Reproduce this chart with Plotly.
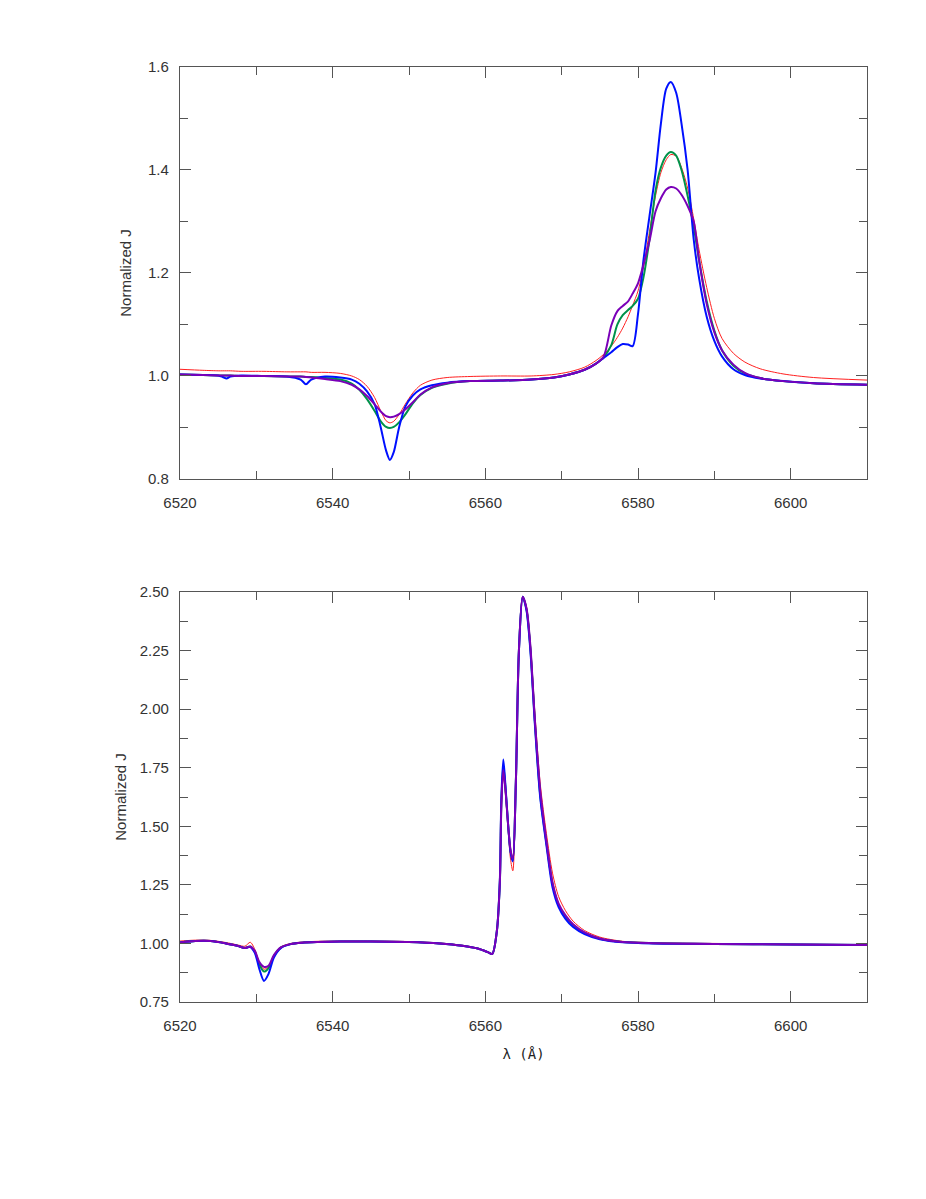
import plotly.graph_objects as go

# ---------------- Top panel data ----------------
top_wave = [6520, 6523, 6525, 6525.6, 6526.1, 6526.6, 6528, 6531, 6534, 6535.8, 6536.5, 6537.2,
            6539, 6541, 6542.5, 6543.5, 6544.5, 6545.5, 6546.3, 6547, 6547.5, 6548, 6548.7,
            6549.5, 6550.5, 6551.5, 6553, 6555, 6558, 6562, 6566, 6569, 6571, 6573, 6574.5,
            6575.5, 6576.5, 6577.3, 6578, 6578.7, 6579.3, 6580, 6580.7, 6581.5, 6582.3, 6583,
            6583.7, 6584.3, 6585, 6585.7, 6586.5, 6587.3, 6588, 6589, 6590, 6591, 6592.5, 6594,
            6596, 6599, 6603, 6610]

top_blue = [1.003, 1.002, 1.001, 0.998, 0.995, 0.999, 1.001, 1.000, 0.999, 0.993, 0.984, 0.993,
            0.999, 0.997, 0.993, 0.985, 0.970, 0.945, 0.900, 0.855, 0.837, 0.852, 0.900,
            0.940, 0.962, 0.974, 0.982, 0.987, 0.990, 0.991, 0.993, 0.997, 1.003, 1.012, 1.024,
            1.035, 1.046, 1.056, 1.062, 1.061, 1.058, 1.120, 1.223, 1.310, 1.395, 1.490,
            1.558, 1.571, 1.550, 1.490, 1.400, 1.265, 1.190, 1.115, 1.068, 1.038, 1.013, 1.002,
            0.995, 0.990, 0.986, 0.983]

top_green = [1.003, 1.002, 1.001, 1.001, 1.001, 1.001, 1.000, 1.000, 0.999, 0.999, 0.998, 0.998,
             0.996, 0.993, 0.985, 0.973, 0.955, 0.932, 0.912, 0.901, 0.899, 0.901, 0.910,
             0.925, 0.947, 0.963, 0.977, 0.985, 0.990, 0.991, 0.993, 0.997, 1.003, 1.012, 1.024,
             1.036, 1.060, 1.100, 1.118, 1.128, 1.136, 1.150, 1.190, 1.265, 1.360, 1.405,
             1.428, 1.435, 1.428, 1.400, 1.350, 1.290, 1.225, 1.145, 1.088, 1.050, 1.020, 1.005,
             0.996, 0.990, 0.986, 0.983]

top_red = [1.013, 1.011, 1.010, 1.010, 1.010, 1.010, 1.009, 1.009, 1.008, 1.008, 1.008, 1.007,
           1.007, 1.005, 1.000, 0.993, 0.980, 0.958, 0.932, 0.913, 0.909, 0.912, 0.925,
           0.945, 0.967, 0.982, 0.992, 0.997, 0.999, 1.000, 1.000, 1.003, 1.008, 1.017, 1.030,
           1.042, 1.058, 1.075, 1.093, 1.115, 1.137, 1.165, 1.210, 1.280, 1.350, 1.395,
           1.420, 1.430, 1.427, 1.405, 1.365, 1.305, 1.245, 1.172, 1.112, 1.073, 1.044, 1.027,
           1.014, 1.004, 0.997, 0.992]

top_purple = [1.003, 1.002, 1.001, 1.001, 1.001, 1.001, 1.000, 1.000, 0.999, 0.999, 0.998, 0.997,
              0.994, 0.990, 0.983, 0.974, 0.961, 0.945, 0.931, 0.922, 0.920, 0.921, 0.926,
              0.935, 0.949, 0.964, 0.978, 0.986, 0.990, 0.991, 0.993, 0.997, 1.003, 1.012, 1.024,
              1.038, 1.098, 1.126, 1.136, 1.145, 1.160, 1.180, 1.215, 1.262, 1.320, 1.345,
              1.362, 1.367, 1.364, 1.352, 1.330, 1.300, 1.225, 1.140, 1.085, 1.050, 1.022, 1.006,
              0.996, 0.990, 0.986, 0.983]

# ---------------- Bottom panel data ----------------
bot_wave = [6520, 6522, 6524, 6526, 6527.5, 6528.5, 6529.2, 6529.8, 6530.4, 6531, 6531.6, 6532.3,
            6533.2, 6534.5, 6536, 6538, 6541, 6545, 6550, 6554, 6557, 6559, 6560.3, 6560.9,
            6561.5, 6561.9, 6562.1, 6562.35, 6562.6, 6563.0, 6563.3, 6563.6, 6564.0, 6564.4,
            6564.9, 6565.4, 6565.9, 6566.5, 6567.2, 6568, 6568.8, 6569.6, 6570.5, 6571.5,
            6573, 6575, 6578, 6582, 6590, 6600, 6610]

bot_blue = [1.004, 1.010, 1.010, 1.000, 0.990, 0.980, 0.985, 0.960, 0.890, 0.840, 0.870, 0.940,
            0.980, 0.997, 1.003, 1.006, 1.008, 1.008, 1.006, 1.000, 0.990, 0.978, 0.963, 0.955,
            1.050, 1.270, 1.620, 1.785, 1.690, 1.500, 1.390, 1.350, 1.690, 2.250,
            2.480, 2.420, 2.250, 1.930, 1.620, 1.420, 1.240, 1.155, 1.105, 1.070,
            1.040, 1.018, 1.005, 1.000, 0.998, 0.995, 0.993]

bot_green = [1.004, 1.010, 1.010, 1.000, 0.990, 0.980, 0.987, 0.965, 0.910, 0.880, 0.895, 0.945,
             0.982, 0.997, 1.003, 1.006, 1.008, 1.008, 1.006, 1.000, 0.990, 0.978, 0.963, 0.955,
             1.050, 1.260, 1.600, 1.760, 1.680, 1.500, 1.395, 1.355, 1.690, 2.250,
             2.480, 2.425, 2.260, 1.940, 1.630, 1.430, 1.255, 1.165, 1.115, 1.078,
             1.045, 1.020, 1.006, 1.001, 0.998, 0.995, 0.993]

bot_red = [1.010, 1.014, 1.013, 1.004, 0.994, 0.988, 1.005, 0.975, 0.915, 0.890, 0.900, 0.950,
           0.985, 1.000, 1.006, 1.009, 1.010, 1.010, 1.008, 1.002, 0.992, 0.980, 0.965, 0.957,
           1.050, 1.250, 1.580, 1.720, 1.650, 1.480, 1.360, 1.310, 1.670, 2.240,
           2.480, 2.435, 2.280, 1.980, 1.680, 1.470, 1.300, 1.200, 1.140, 1.095,
           1.055, 1.027, 1.009, 1.003, 1.000, 0.997, 0.995]

bot_purple = [1.004, 1.010, 1.010, 1.000, 0.990, 0.980, 0.987, 0.968, 0.920, 0.900, 0.905, 0.950,
              0.983, 0.997, 1.003, 1.006, 1.008, 1.008, 1.006, 1.000, 0.990, 0.978, 0.963, 0.955,
              1.050, 1.260, 1.590, 1.740, 1.670, 1.500, 1.400, 1.360, 1.690, 2.250,
              2.480, 2.430, 2.270, 1.950, 1.650, 1.437, 1.260, 1.170, 1.120, 1.082,
              1.047, 1.021, 1.006, 1.001, 0.998, 0.995, 0.993]

series = [
    ("red", "#ff2020", 1.0),
    ("green", "#00924a", 2.0),
    ("blue", "#0010ff", 2.0),
    ("purple", "#7a00b8", 2.0),
]
top_vals = {"red": top_red, "green": top_green, "blue": top_blue, "purple": top_purple}
bot_vals = {"red": bot_red, "green": bot_green, "blue": bot_blue, "purple": bot_purple}

fig = go.Figure()
for name, color, w in series:
    fig.add_trace(go.Scatter(x=top_wave, y=top_vals[name], mode="lines",
                             line=dict(color=color, width=w, shape="spline", smoothing=0.8),
                             xaxis="x", yaxis="y", showlegend=False, hoverinfo="skip"))
for name, color, w in series:
    fig.add_trace(go.Scatter(x=bot_wave, y=bot_vals[name], mode="lines",
                             line=dict(color=color, width=w, shape="spline", smoothing=0.8),
                             xaxis="x2", yaxis="y2", showlegend=False, hoverinfo="skip"))

font = dict(family="Liberation Sans, Arial, sans-serif", size=15, color="#333333")
axcol = "#555555"

common_x = dict(range=[6520, 6610], dtick=20, tick0=6520, ticks="inside", ticklen=11,
                tickwidth=1, tickcolor=axcol, showline=True, linecolor=axcol, linewidth=1.2,
                mirror="ticks", showgrid=False, zeroline=False, tickfont=font,
                ticklabelstandoff=10, automargin=False,
                minor=dict(dtick=10, tick0=6520, ticks="inside", ticklen=8, tickcolor=axcol,
                           showgrid=False))
common_y = dict(ticks="inside", ticklen=11, tickwidth=1, tickcolor=axcol, showline=True,
                linecolor=axcol, linewidth=1.2, mirror="ticks", showgrid=False,
                zeroline=False, tickfont=font, ticklabelstandoff=7, automargin=False)

# page body has an 8px default margin, so the figure is 8px smaller than the window
fig.update_layout(
    width=918, height=1191,
    margin=dict(l=172, r=59, t=59, b=197),
    paper_bgcolor="white", plot_bgcolor="white",
    showlegend=False,
    xaxis=dict(domain=[0, 1], anchor="y", **common_x),
    yaxis=dict(domain=[0.5594, 1], anchor="x", range=[0.8, 1.6], dtick=0.2, tick0=0.8,
               tickformat=".1f",
               minor=dict(dtick=0.1, tick0=0.8, ticks="inside", ticklen=8, tickcolor=axcol,
                          showgrid=False),
               title=dict(text="Normalized J", font=font, standoff=12), **common_y),
    xaxis2=dict(domain=[0, 1], anchor="y2",
                title=dict(text="λ (Å)", font=dict(family="DejaVu Sans Mono, monospace",
                                                   size=14, color="#222222"), standoff=16),
                **common_x),
    yaxis2=dict(domain=[0, 0.4385], anchor="x2", range=[0.75, 2.5], dtick=0.25, tick0=0.75,
                tickformat=".2f",
                minor=dict(dtick=0.125, tick0=0.75, ticks="inside", ticklen=8,
                           tickcolor=axcol, showgrid=False),
                title=dict(text="Normalized J", font=font, standoff=9), **common_y),
)

fig.write_html("out.html")
